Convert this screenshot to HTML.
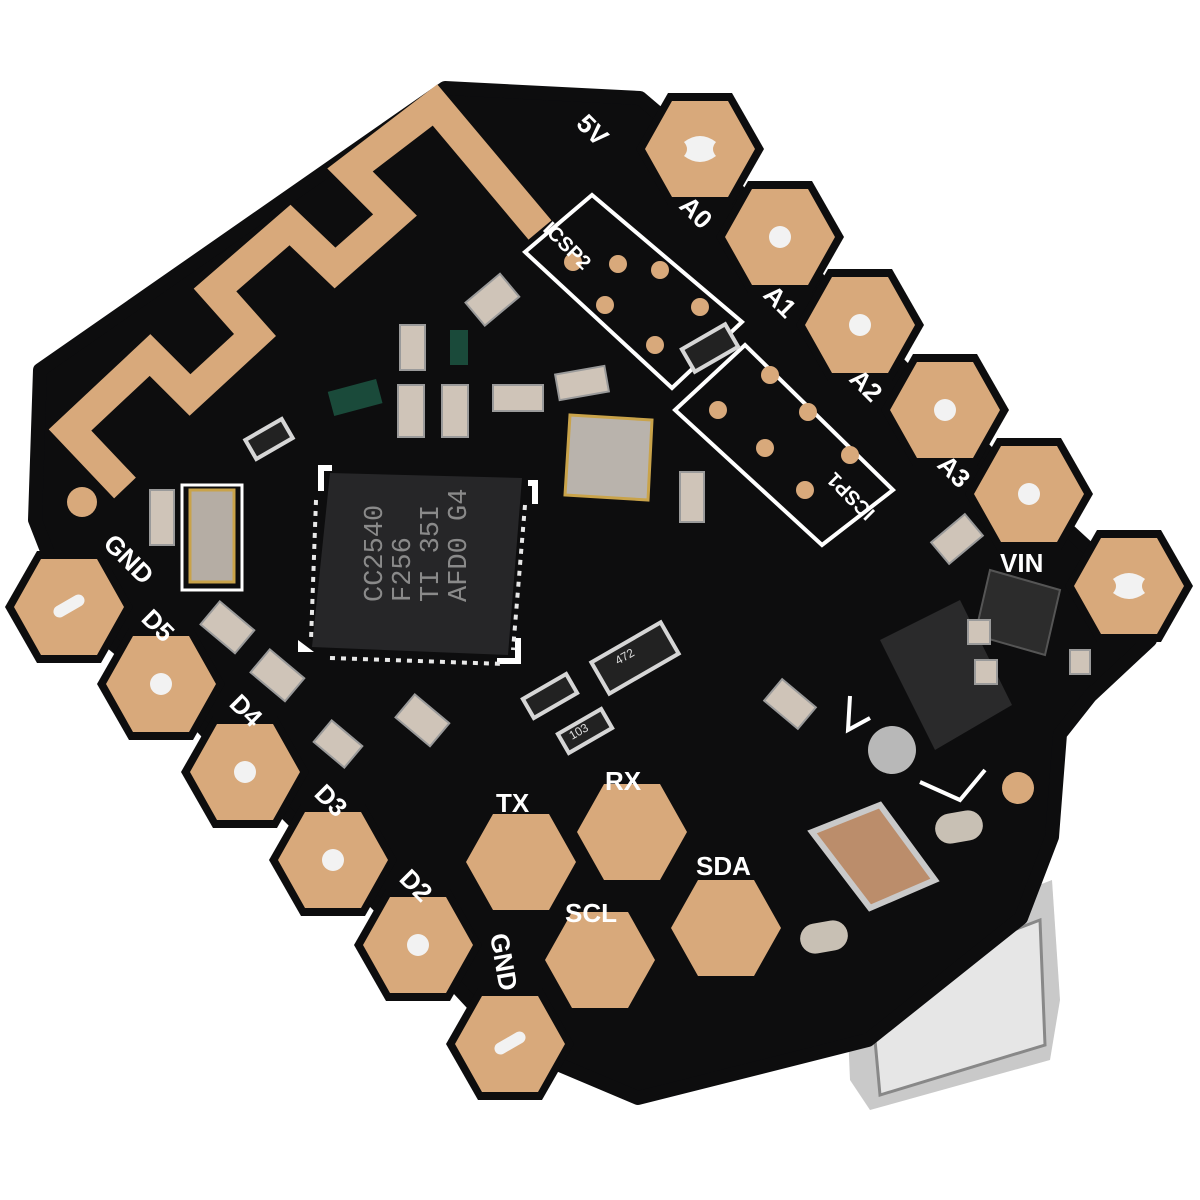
<!DOCTYPE html>
<html><head><meta charset="utf-8"><style>
html,body{margin:0;padding:0;background:#fff;}
svg{display:block;}
.l{font-family:"Liberation Sans",sans-serif;font-weight:bold;fill:#fff;font-size:26px;}
.c{font-family:"Liberation Mono",monospace;fill:#8a8a8a;font-size:27px;}
</style></head><body>
<svg width="1200" height="1200" viewBox="0 0 1200 1200" xmlns="http://www.w3.org/2000/svg">
<defs>
<polygon id="hx" points="55,0 28,-48 -28,-48 -55,0 -28,48 28,48"/>
<polygon id="hxb" points="64,0 32,-56 -32,-56 -64,0 -32,56 32,56"/>
</defs>
<!-- usb connector -->
<polygon points="845,960 1052,880 1060,1000 1050,1060 870,1110 850,1080" fill="#c9c9c9"/>
<polygon points="870,985 1040,920 1045,1045 880,1095" fill="#e6e6e6" stroke="#888" stroke-width="3"/>
<!-- board edge (silver) -->
<polygon points="445,94 640,104 700,155 780,243 860,331 945,416 1029,500 1129,592 1150,646 1090,702 1060,740 1052,843 1021,924 868,1046 638,1104 510,1050 418,951 333,866 245,778 161,690 69,613 35,526 40,376" fill="#bdb3a6"/>
<!-- board -->
<polygon points="445,88 640,98 700,149 780,237 860,325 945,410 1029,494 1129,586 1150,640 1090,696 1060,734 1052,837 1021,918 868,1040 638,1098 510,1044 418,945 333,860 245,772 161,684 69,607 35,520 40,370" fill="#0d0d0e" stroke="#0d0d0e" stroke-width="14" stroke-linejoin="round"/>
<!-- pad rims -->
<g fill="#0d0d0e">
<use href="#hxb" x="700" y="149"/><use href="#hxb" x="780" y="237"/><use href="#hxb" x="860" y="325"/><use href="#hxb" x="945" y="410"/><use href="#hxb" x="1029" y="494"/><use href="#hxb" x="1129" y="586"/>
<use href="#hxb" x="69" y="607"/><use href="#hxb" x="161" y="684"/><use href="#hxb" x="245" y="772"/><use href="#hxb" x="333" y="860"/><use href="#hxb" x="418" y="945"/><use href="#hxb" x="510" y="1044"/>
</g>
<!-- gold pads -->
<g fill="#d8a97b">
<use href="#hx" x="700" y="149"/><use href="#hx" x="780" y="237"/><use href="#hx" x="860" y="325"/><use href="#hx" x="945" y="410"/><use href="#hx" x="1029" y="494"/><use href="#hx" x="1129" y="586"/>
<use href="#hx" x="69" y="607"/><use href="#hx" x="161" y="684"/><use href="#hx" x="245" y="772"/><use href="#hx" x="333" y="860"/><use href="#hx" x="418" y="945"/><use href="#hx" x="510" y="1044"/>
<use href="#hx" x="521" y="862"/><use href="#hx" x="632" y="832"/><use href="#hx" x="600" y="960"/><use href="#hx" x="726" y="928"/>
<circle cx="82" cy="502" r="15"/><circle cx="1018" cy="788" r="16"/>
</g>
<!-- holes -->
<g fill="#f2f2f2">
<path d="M684,142 q16,-12 32,0 q-6,7 0,14 q-16,12 -32,0 q6,-7 0,-14z"/>
<path d="M1113,579 q16,-12 32,0 q-6,7 0,14 q-16,12 -32,0 q6,-7 0,-14z"/>
<circle cx="780" cy="237" r="11"/><circle cx="860" cy="325" r="11"/><circle cx="945" cy="410" r="11"/><circle cx="1029" cy="494" r="11"/>
<circle cx="161" cy="684" r="11"/><circle cx="245" cy="772" r="11"/><circle cx="333" cy="860" r="11"/><circle cx="418" cy="945" r="11"/>
<rect x="52" y="600" width="34" height="12" rx="6" transform="rotate(-30 69 606)"/>
<rect x="493" y="1037" width="34" height="12" rx="6" transform="rotate(-30 510 1043)"/>
</g>
<!-- antenna -->
<polyline points="125,488 70,430 150,355 190,395 255,335 215,290 290,225 335,268 395,215 350,170 435,105 540,230" fill="none" stroke="#d8a97b" stroke-width="30" stroke-linejoin="miter"/>
<!-- ICSP boxes -->
<g fill="none" stroke="#fff" stroke-width="4">
<polygon points="525,252 592,195 742,322 672,388"/>
<polygon points="675,410 745,345 893,490 822,545"/>
<polyline points="850,696 848,730 870,718" /><polyline points="920,782 960,800 985,770"/>
</g>
<g fill="#d8a97b">
<circle cx="573" cy="262" r="9"/><circle cx="618" cy="264" r="9"/><circle cx="660" cy="270" r="9"/><circle cx="605" cy="305" r="9"/><circle cx="700" cy="307" r="9"/><circle cx="655" cy="345" r="9"/>
<circle cx="770" cy="375" r="9"/><circle cx="718" cy="410" r="9"/><circle cx="808" cy="412" r="9"/><circle cx="765" cy="448" r="9"/><circle cx="850" cy="455" r="9"/><circle cx="805" cy="490" r="9"/>
</g>
<!-- chip -->
<polygon points="330,473 522,478 508,655 312,647" fill="#262628"/>
<g fill="#fff">
<path d="M318,465h14v6h-8v20h-6z M528,480h10v24h-6v-18h-4z M497,658h18v-20h6v26h-24z M298,640l16,12h-16z"/>
</g>
<g stroke="#e8e8e8" stroke-width="4" stroke-dasharray="5 6">
<line x1="316" y1="500" x2="311" y2="640"/><line x1="525" y1="505" x2="513" y2="650"/><line x1="330" y1="658" x2="505" y2="664"/>
</g>
<g class="c">
<text transform="translate(382,602) rotate(-90)">CC2540</text>
<text transform="translate(410,602) rotate(-90)">F256</text>
<text transform="translate(438,602) rotate(-90)">TI 35I</text>
<text transform="translate(466,602) rotate(-90)">AFD0 G4</text>
</g>
<!-- crystals -->
<rect x="182" y="485" width="60" height="105" fill="none" stroke="#fff" stroke-width="3"/>
<rect x="190" y="490" width="44" height="92" fill="#b5ada4" stroke="#c9a34a" stroke-width="3"/>
<polygon points="570,415 652,420 648,500 565,495" fill="#b9b3ac" stroke="#c9a34a" stroke-width="3"/>
<!-- regulator -->
<polygon points="880,640 960,600 1012,705 935,750" fill="#2a2a2b"/>
<polygon points="990,570 1060,590 1045,655 975,635" fill="#2c2c2c" stroke="#555" stroke-width="2"/>
<circle cx="892" cy="750" r="24" fill="#b8b8b8"/>
<!-- big cap -->
<polygon points="812,832 880,805 935,880 870,908" fill="#bb8d6b" stroke="#c9c9c9" stroke-width="6"/>
<rect x="935" y="812" width="48" height="30" rx="15" fill="#c8c0b4" transform="rotate(-10 959 827)"/>
<rect x="800" y="922" width="48" height="30" rx="15" fill="#c8c0b4" transform="rotate(-10 824 937)"/>
<!-- small components -->
<g fill="#cfc4b8" stroke="#9a9a9a" stroke-width="2">
<rect x="470" y="285" width="45" height="30" transform="rotate(-40 492 300)"/>
<rect x="400" y="325" width="25" height="45"/><rect x="398" y="385" width="26" height="52"/>
<rect x="442" y="385" width="26" height="52"/><rect x="493" y="385" width="50" height="26"/>
<rect x="557" y="370" width="50" height="26" transform="rotate(-10 582 383)"/>
<rect x="680" y="472" width="24" height="50"/><rect x="150" y="490" width="24" height="55"/>
<rect x="205" y="612" width="45" height="30" transform="rotate(40 227 627)"/>
<rect x="255" y="660" width="45" height="30" transform="rotate(40 277 675)"/>
<rect x="318" y="730" width="40" height="28" transform="rotate(40 338 744)"/>
<rect x="400" y="705" width="45" height="30" transform="rotate(40 422 720)"/>
<rect x="768" y="690" width="44" height="28" transform="rotate(40 790 704)"/>
<rect x="935" y="525" width="44" height="28" transform="rotate(-40 957 539)"/>
<rect x="1070" y="650" width="20" height="24"/><rect x="968" y="620" width="22" height="24"/><rect x="975" y="660" width="22" height="24"/>
</g>
<g fill="#1a4a3a"><rect x="330" y="385" width="50" height="25" transform="rotate(-15 355 397)"/><rect x="450" y="330" width="18" height="35"/></g>
<g fill="#222" stroke="#d6d6d6" stroke-width="4">
<rect x="248" y="428" width="42" height="22" transform="rotate(-30 269 439)"/>
<rect x="525" y="685" width="50" height="22" transform="rotate(-30 550 696)"/>
<rect x="560" y="720" width="50" height="22" transform="rotate(-30 585 731)"/>
<rect x="595" y="640" width="80" height="36" transform="rotate(-30 635 658)"/>
<rect x="685" y="335" width="50" height="26" transform="rotate(-30 710 348)"/>
</g>
<g font-family="Liberation Sans,sans-serif" font-size="12" fill="#ddd">
<text transform="translate(618,665) rotate(-30)">472</text>
<text transform="translate(572,740) rotate(-30)">103</text>
</g>
<!-- labels -->
<g class="l">
<text transform="translate(575,125) rotate(45)">5V</text>
<text transform="translate(678,207) rotate(45)">A0</text>
<text transform="translate(762,296) rotate(45)">A1</text>
<text transform="translate(848,380) rotate(45)">A2</text>
<text transform="translate(936,466) rotate(45)">A3</text>
<text x="1000" y="572">VIN</text>
<text transform="translate(102,545) rotate(45)">GND</text>
<text transform="translate(140,620) rotate(45)">D5</text>
<text transform="translate(228,705) rotate(45)">D4</text>
<text transform="translate(313,795) rotate(45)">D3</text>
<text transform="translate(398,880) rotate(45)">D2</text>
<text transform="translate(490,935) rotate(80)">GND</text>
<text x="496" y="812">TX</text>
<text x="605" y="790">RX</text>
<text x="565" y="922">SCL</text>
<text x="696" y="875">SDA</text>
<text transform="translate(542,230) rotate(45)" font-size="20">ICSP2</text>
<text transform="translate(876,512) rotate(-135)" font-size="20">ICSP1</text>
</g>
</svg>
</body></html>
